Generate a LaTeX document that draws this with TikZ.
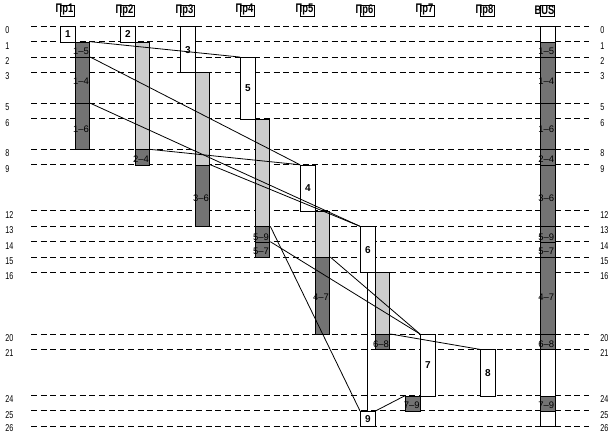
\documentclass[tikz,border=0pt]{standalone}
\usepackage{fontspec}
\setmainfont{Liberation Sans}
\usepackage{graphicx}
\begin{document}
\begin{tikzpicture}[x=1pt,y=-1pt,line width=0.9pt,
  gridline/.style={line width=0.9pt, dash pattern=on 6pt off 3.7pt},
  tlab/.style={inner sep=0pt, anchor=north west, yshift=0pt, font=\fontsize{10}{10}\selectfont},
  hdrbox/.style={draw, inner sep=0pt, minimum width=14.7pt, minimum height=11pt},
  hdrtext/.style={inner sep=0pt, font=\fontsize{12.5}{12.5}\selectfont\bfseries},
  cell/.style={draw, inner sep=0pt, minimum width=14.7pt, minimum height=#1*15.385pt, anchor=north west},
  task/.style={cell=#1, fill=white, font=\fontsize{10}{10}\selectfont\bfseries},
  idle/.style={cell=#1, fill=black!20},
  xfer/.style={cell=#1, fill=black!55},
  lab/.style={inner sep=0pt, font=\fontsize{9.5}{9.5}\selectfont},
  conn/.style={line width=0.8pt}
]
\useasboundingbox (0,0) rectangle (614,435);
% headers
\foreach \k/\n in {1/Пр1,2/Пр2,3/Пр3,4/Пр4,5/Пр5,6/Пр6,7/Пр7,8/Пр8,9/BUS}{
  \node[hdrbox] (hb\k) at (60*\k+7.35,10.5) {};
  \node[hdrtext] (h\k) at (60*\k+4.5,10) {\scalebox{0.75}[1]{\n}};
}
\begin{scope}[shift={(0,26.3)}, y=-15.385pt]
  % time grid
  \foreach \t in {0,1,2,3,5,6,8,9,12,13,14,15,16,20,21,24,25,26}{
    \draw[gridline] (31,\t) -- (589,\t);
  }
  \foreach \t in {0,1,2,3,5,6,8,9,12,13,14,15,16,20,21,24,25}{
    \node[tlab] (tl\t) at (5,\t) {\scalebox{0.72}[1]{\t}};
    \node[tlab] (tr\t) at (600,\t) {\scalebox{0.72}[1]{\t}};
  }
  \node[tlab, yshift=2.6pt] (tl26) at (5,26) {\scalebox{0.72}[1]{26}};
  \node[tlab, yshift=2.6pt] (tr26) at (600,26) {\scalebox{0.72}[1]{26}};
  % bus
  \node[task=26] (bus) at (540,0) {};
  \node[xfer=1] (bus15) at (540,1) {};
  \node[xfer=3] (bus14) at (540,2) {};
  \node[xfer=3] (bus16) at (540,5) {};
  \node[xfer=1] (bus24) at (540,8) {};
  \node[xfer=4] (bus36) at (540,9) {};
  \node[xfer=1] (bus59) at (540,13) {};
  \node[xfer=1] (bus57) at (540,14) {};
  \node[xfer=5] (bus47) at (540,15) {};
  \node[xfer=1] (bus68) at (540,20) {};
  \node[xfer=1] (bus79) at (540,24) {};
  % processor bars
  \node[xfer=1] (p15) at (74.7,1) {};
  \node[xfer=3] (p14) at (74.7,2) {};
  \node[xfer=3] (p16) at (74.7,5) {};
  \node[idle=7] (w2) at (134.7,1) {};
  \node[xfer=1] (p24) at (134.7,8) {};
  \node[idle=6] (w3) at (194.7,3) {};
  \node[xfer=4] (p36) at (194.7,9) {};
  \node[idle=7] (w4) at (254.7,6) {};
  \node[xfer=1] (p59) at (254.7,13) {};
  \node[xfer=1] (p57) at (254.7,14) {};
  \node[idle=3] (w5) at (314.7,12) {};
  \node[xfer=5] (p47) at (314.7,15) {};
  \node[idle=4] (w6) at (374.7,16) {};
  \node[xfer=1] (p68) at (374.7,20) {};
  \node[xfer=1] (p79) at (405.3,24) {};
  % tasks
  \node[task=1] (t1) at (60,0) {1};
  \node[task=1] (t2) at (120,0) {2};
  \node[task=3] (t3) at (180,0) {3};
  \node[task=4] (t5) at (240,2) {5};
  \node[task=3] (t4) at (300,9) {4};
  \node[task=3] (t6) at (360,13) {6};
  \node[task=4] (t7) at (420,20) {7};
  \node[task=3] (t8) at (480,21) {8};
  \node[task=1] (t9) at (360,25) {9};
  % connectors
  \draw[conn] (p15.north east) -- (t5.north west);
  \draw[conn] (p14.north east) -- (t4.north west);
  \draw[conn] (p16.north east) -- (t6.north west);
  \draw[conn] (p24.north east) -- (t4.north west);
  \draw[conn] (p36.north east) -- (t6.north west);
  \draw[conn] (p59.north east) -- (t9.north west);
  \draw[conn] (p57.north east) -- (t7.north west);
  \draw[conn] (p47.north east) -- (t7.north west);
  \draw[conn] (p68.north east) -- (t8.north west);
  \draw[conn] (p79.north west) -- (t9.north east);
  \draw[conn] (t6.south) -- (t9.north);
  % transfer labels on processors
  \node[lab] (l15) at (81,1.65) {1–5};
  \node[lab] (l14) at (81,3.57) {1–4};
  \node[lab] (l16) at (81,6.66) {1–6};
  \node[lab] (l24) at (141,8.66) {2–4};
  \node[lab] (l36) at (201,11.17) {3–6};
  \node[lab] (l59) at (261,13.68) {5–9};
  \node[lab] (l57) at (261,14.64) {5–7};
  \node[lab] (l47) at (321,17.63) {4–7};
  \node[lab] (l68) at (381,20.67) {6–8};
  \node[lab] (l79) at (411.7,24.62) {7–9};
  % transfer labels on bus
  \node[lab] (m15) at (546.3,1.65) {1–5};
  \node[lab] (m14) at (546.3,3.57) {1–4};
  \node[lab] (m16) at (546.3,6.66) {1–6};
  \node[lab] (m24) at (546.3,8.66) {2–4};
  \node[lab] (m36) at (546.3,11.17) {3–6};
  \node[lab] (m59) at (546.3,13.68) {5–9};
  \node[lab] (m57) at (546.3,14.64) {5–7};
  \node[lab] (m47) at (546.3,17.63) {4–7};
  \node[lab] (m68) at (546.3,20.67) {6–8};
  \node[lab] (m79) at (546.3,24.62) {7–9};
\end{scope}
\end{tikzpicture}
\end{document}
